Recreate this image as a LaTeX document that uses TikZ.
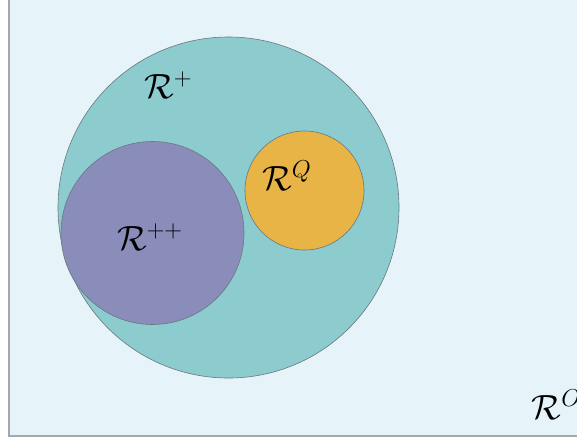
\RequirePackage{fix-cm}
\documentclass[tikz,border=0pt]{standalone}
\usepackage{amsmath}
\definecolor{bgblue}{RGB}{230,243,248}
\definecolor{teal1}{RGB}{140,203,206}
\definecolor{purple1}{RGB}{138,141,186}
\definecolor{orange1}{RGB}{232,180,70}
\definecolor{frame1}{RGB}{165,168,170}
\definecolor{edge1}{RGB}{105,120,128}
\tikzset{
  region/.style={circle, draw=edge1, line width=0.6pt, inner sep=0pt},
  lab/.style={font=\fontsize{35}{42}\selectfont, inner sep=0pt, anchor=base west}
}
\begin{document}
\begin{tikzpicture}[x=1pt,y=-1pt]
\useasboundingbox (0,0) rectangle (577,440);
\clip (0,0) rectangle (577,440);
\fill[white] (0,0) rectangle (577,440);
\draw[fill=bgblue, draw=frame1, line width=1.8pt] (9,-20) rectangle (620,436);
\node[region, fill=teal1, minimum size=341pt] (outer) at (228.5,207.5) {};
\node[region, fill=purple1, minimum size=183pt] (pp) at (152.5,233) {};
\node[region, fill=orange1, minimum size=119pt] (q) at (304.5,190.5) {};
\node[lab] (lplus) at (144,98) {$\mathcal{R}^{+}$};
\node[lab] (lpp) at (117,250) {$\mathcal{R}^{++}$};
\node[lab] (lq) at (262,190) {$\mathcal{R}^{Q}$};
\node[lab] (lo) at (531.5,419) {$\mathcal{R}^{O}$};
\end{tikzpicture}
\end{document}
